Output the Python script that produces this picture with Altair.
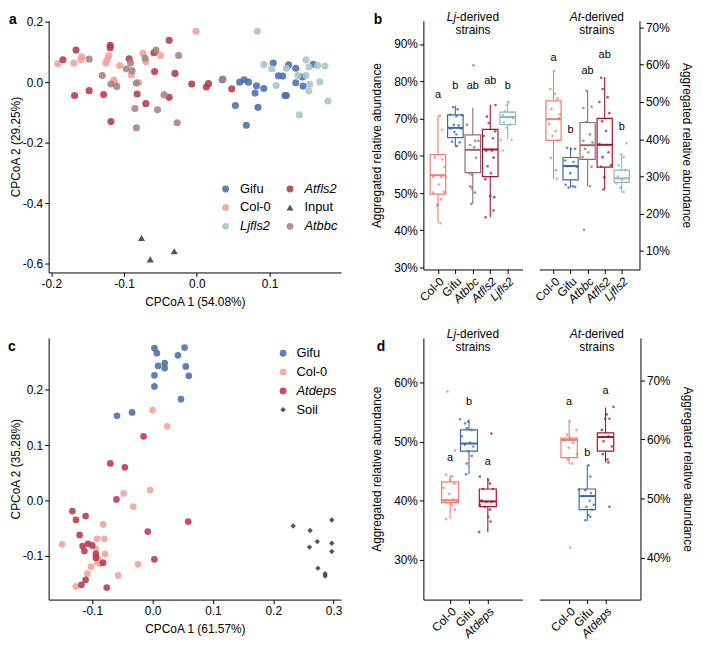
import altair as alt
import pandas as pd

FONT = "Liberation Sans"

# ---------------- Panel a : CPCoA (54.08% / 29.25%) ----------------
a_groups = ["Gifu", "Col-0", "Ljfls2", "Atfls2", "Input", "Atbbc"]
a_colors = ["#4a6fab", "#f4a09b", "#a9c4c6", "#b43a4c", "#3d3d3d", "#a38483"]
a_shapes = ["circle", "circle", "circle", "circle", "triangle-up", "circle"]

a_gifu_x = [0.035, 0.053, 0.059, 0.065, 0.071, 0.068, 0.082, 0.080, 0.092, 0.084, 0.105,
            0.112, 0.118, 0.126, 0.136, 0.121, 0.123, 0.136, 0.145, 0.146, 0.160]
a_gifu_y = [0.008, -0.077, 0.000, 0.008, 0.000, -0.142, -0.012, -0.036, -0.021, -0.083, 0.063,
            0.021, 0.020, 0.057, 0.046, -0.044, -0.044, -0.002, 0.017, -0.013, 0.059]
a_ljfls2_x = [0.083, 0.092, 0.103, 0.109, 0.123, 0.139, 0.150, 0.154, 0.150, 0.155, 0.154,
              0.166, 0.176, 0.169, 0.180, 0.141]
a_ljfls2_y = [0.168, 0.058, 0.044, -0.011, 0.046, 0.022, 0.074, 0.050, 0.022, -0.007, -0.029,
              0.055, 0.053, 0.001, -0.062, -0.108]
a_col0_x = [-0.001, -0.191, -0.169, -0.159, -0.158, -0.125, -0.123, -0.121, -0.114, -0.113,
            -0.106, -0.090, -0.080, -0.074, -0.070, -0.050]
a_col0_y = [0.168, 0.061, 0.063, 0.074, 0.084, 0.063, 0.074, 0.087, 0.007, -0.001,
            0.055, 0.024, -0.001, 0.095, 0.068, 0.088]
a_atfls2_x = [-0.184, -0.166, -0.168, -0.148, -0.128, -0.119, -0.119, -0.093, -0.082, -0.070,
              -0.118, -0.059, -0.058, -0.038, -0.038, -0.030, -0.007, 0.016, 0.013, 0.048]
a_atfls2_y = [0.074, 0.106, -0.044, -0.028, -0.041, 0.122, 0.114, 0.077, -0.039, -0.071,
              -0.130, 0.097, 0.035, -0.050, 0.138, 0.029, -0.006, -0.005, -0.016, -0.022]
a_atbbc_x = [-0.148, -0.130, -0.118, -0.110, -0.097, -0.091, -0.089, -0.083, -0.071, -0.085,
             -0.083, -0.056, -0.045, -0.054, -0.025, -0.027, 0.036]
a_atbbc_y = [0.076, 0.022, -0.006, -0.014, 0.044, 0.063, 0.038, -0.003, 0.079, -0.087,
             -0.151, 0.106, -0.042, -0.091, 0.088, -0.134, 0.010]
a_input_x = [-0.076, -0.064, -0.031]
a_input_y = [-0.514, -0.585, -0.558]

# ---------------- Panel c : CPCoA (61.57% / 35.28%) ----------------
c_groups = ["Gifu", "Col-0", "Atdeps", "Soil"]
c_colors = ["#4a6fab", "#f4a09b", "#b43a4c", "#3d3d3d"]
c_shapes = ["circle", "circle", "circle", "M0,-0.8L0.8,0L0,0.8L-0.8,0Z"]

c_gifu_x = [0.003, 0.007, 0.053, 0.042, 0.009, 0.020, 0.020, 0.055, 0.060, 0.003, 0.003,
            0.047, -0.059, -0.034]
c_gifu_y = [0.275, 0.266, 0.276, 0.262, 0.243, 0.248, 0.239, 0.242, 0.225, 0.226, 0.206,
            0.183, 0.153, 0.159]
c_col0_x = [0.000, 0.024, -0.048, -0.004, -0.032, -0.082, -0.150, -0.092, -0.080, -0.079,
            -0.094, -0.090, -0.087, -0.102, -0.108, -0.127, -0.024, -0.057, -0.092]
c_col0_y = [0.163, 0.134, 0.013, 0.019, -0.011, -0.043, -0.079, -0.069, -0.069, -0.096,
            -0.087, -0.105, -0.114, -0.119, -0.132, -0.155, -0.115, -0.135, -0.111]
c_atdeps_x = [-0.015, -0.070, -0.046, -0.060, -0.133, -0.127, -0.111, -0.121, 0.059, -0.008,
              -0.116, -0.113, -0.107, -0.100, -0.094, -0.082, 0.003, -0.111, -0.118, -0.076,
              -0.094]
c_atdeps_y = [0.116, 0.067, 0.060, 0.002, -0.019, -0.035, -0.028, -0.062, -0.038, -0.056,
              -0.082, -0.091, -0.078, -0.081, -0.096, -0.112, -0.106, -0.143, -0.152, -0.157,
              -0.103]
c_soil_x = [0.233, 0.261, 0.297, 0.273, 0.260, 0.297, 0.297, 0.274, 0.286, 0.286]
c_soil_y = [-0.046, -0.054, -0.035, -0.074, -0.084, -0.077, -0.092, -0.122, -0.132, -0.136]

# ---------------- Panel b : aggregated relative abundance ----------------
b_groups = ["Col-0", "Gifu", "Atbbc", "Atfls2", "Ljfls2"]
b_colors = ["#ef7e76", "#3f66a9", "#8f6d69", "#a5162d", "#92b6b9"]

b_lj_lower = [41.9, 62.4, 47.1, 43.5, 64.3]
b_lj_q1 = [49.7, 64.9, 55.5, 54.4, 68.4]
b_lj_median = [54.8, 67.5, 61.6, 61.7, 70.4]
b_lj_q3 = [60.3, 71.0, 65.6, 67.1, 71.7]
b_lj_upper = [70.8, 73.4, 72.9, 73.7, 74.6]
b_lj_letters = ["a", "b", "ab", "ab", "b"]
b_lj_letter_y = [76.4, 78.6, 78.8, 80.1, 78.6]
b_lj_values = [
    [70.7, 67.0, 59.5, 59.0, 57.0, 54.4, 54.3, 54.3, 52.3, 50.3, 50.1, 48.3, 47.0, 46.6, 41.9],
    [73.0, 72.5, 71.0, 70.9, 70.6, 68.3, 68.2, 67.3, 67.3, 66.4, 65.7, 63.8, 63.6, 62.6],
    [84.3, 68.3, 64.0, 64.0, 62.9, 62.3, 59.5, 55.3, 54.9, 51.8, 51.4, 50.1, 47.1],
    [73.6, 70.5, 68.8, 66.6, 65.3, 64.7, 61.4, 61.4, 59.5, 57.2, 55.3, 53.7, 49.2, 48.9, 45.3, 43.5],
    [74.4, 73.6, 72.0, 71.7, 71.0, 70.3, 70.1, 69.0, 68.3, 67.5, 64.2, 64.3, 61.4],
]
b_lj_jitter = [
    [0.11, 0.25, -0.19, 0.25, 0.38, -0.27, 0.19, 0.44, 0.06, 0.34, -0.27, 0.19, 0.0, -0.04, 0.15],
    [-0.13, 0.13, -0.28, 0.38, 0.06, -0.09, 0.19, -0.28, 0.32, -0.06, 0.06, -0.19, 0.25, 0.09],
    [0.04, -0.34, 0.13, 0.32, -0.15, 0.08, 0.19, -0.19, -0.06, -0.15, -0.06, 0.13, -0.09],
    [0.30, -0.19, -0.09, 0.28, -0.38, 0.15, -0.23, 0.09, 0.19, -0.15, 0.04, -0.28, 0.0, 0.23, 0.19, -0.27],
    [0.04, -0.06, -0.15, 0.23, -0.28, 0.04, 0.32, -0.21, 0.13, -0.06, -0.40, 0.23, -0.28],
]

b_at_lower = [29.4, 27.0, 27.3, 26.5, 25.7]
b_at_q1 = [39.7, 29.1, 34.6, 32.5, 28.4]
b_at_median = [45.4, 32.8, 38.4, 38.5, 29.5]
b_at_q3 = [50.3, 35.1, 44.5, 45.6, 31.7]
b_at_upper = [58.3, 37.7, 53.0, 56.7, 36.1]
b_at_letters = ["a", "b", "ab", "ab", "b"]
b_at_letter_y = [61.7, 42.6, 58.3, 62.7, 43.2]
b_at_values = [
    [58.3, 53.5, 52.2, 50.9, 48.1, 46.7, 45.7, 44.1, 42.2, 40.9, 39.7, 35.0, 31.7, 29.4],
    [37.7, 37.4, 37.4, 34.3, 33.9, 32.8, 32.6, 30.9, 27.8, 27.4, 27.0, 27.2],
    [53.0, 48.4, 48.7, 44.6, 41.3, 39.6, 39.1, 37.4, 36.5, 35.2, 32.6, 27.4, 15.7],
    [56.5, 53.5, 51.3, 50.0, 47.0, 44.8, 42.2, 38.7, 36.5, 35.2, 33.0, 32.6, 29.8, 26.5],
    [38.9, 35.9, 35.2, 33.0, 31.7, 30.0, 29.1, 28.1, 27.0, 25.8],
]
b_at_jitter = [
    [0.04, -0.19, 0.08, 0.23, -0.12, 0.38, 0.33, -0.25, 0.13, -0.06, 0.27, -0.15, 0.13, 0.19],
    [-0.21, 0.02, 0.27, -0.31, 0.17, -0.17, 0.37, -0.02, -0.29, 0.13, -0.12, 0.27],
    [-0.06, -0.25, 0.23, -0.10, 0.13, -0.25, 0.29, -0.15, 0.04, -0.29, 0.23, 0.13, -0.21],
    [-0.21, -0.12, 0.17, -0.31, 0.27, -0.15, 0.08, -0.31, 0.23, -0.12, 0.37, -0.21, -0.02, -0.08],
    [0.27, -0.04, 0.12, -0.17, 0.21, -0.23, 0.02, -0.31, -0.08, 0.12],
]

# ---------------- Panel d ----------------
d_groups = ["Col-0", "Gifu", "Atdeps"]
d_colors = ["#ef7e76", "#3f66a9", "#a5162d"]

d_lj_lower = [36.9, 44.5, 34.7]
d_lj_q1 = [39.7, 48.4, 39.0]
d_lj_median = [40.1, 49.7, 39.9]
d_lj_q3 = [43.2, 52.0, 42.0]
d_lj_upper = [44.4, 53.8, 43.9]
d_lj_letters = ["a", "b", "a"]
d_lj_letter_y = [47.3, 56.8, 46.6]
d_lj_values = [
    [58.5, 48.5, 44.4, 44.1, 43.5, 42.9, 42.2, 41.2, 40.2, 40.0, 39.8, 39.3, 38.5, 36.9],
    [53.8, 53.1, 53.4, 52.3, 52.0, 50.9, 49.8, 49.5, 49.2, 48.4, 47.6, 46.3, 44.5],
    [51.4, 44.1, 43.5, 42.9, 42.0, 42.0, 40.1, 39.8, 39.8, 39.3, 39.0, 38.5, 37.3, 36.5, 34.7],
]
d_lj_jitter = [
    [-0.14, 0.26, -0.21, 0.11, 0.0, 0.23, -0.35, -0.04, 0.18, -0.26, 0.35, 0.09, 0.26, -0.21],
    [-0.47, -0.21, -0.04, -0.12, 0.14, -0.39, 0.05, -0.21, 0.23, -0.04, 0.14, -0.12, -0.16],
    [0.19, -0.42, 0.02, 0.11, -0.25, 0.28, -0.33, -0.07, 0.19, -0.42, -0.16, 0.11, 0.02, 0.14, -0.46],
]

d_at_lower = [55.8, 46.2, 56.1]
d_at_q1 = [56.9, 48.1, 58.0]
d_at_median = [59.9, 50.4, 60.4]
d_at_q3 = [60.2, 51.6, 61.1]
d_at_upper = [63.1, 55.6, 65.4]
d_at_letters = ["a", "b", "a"]
d_at_letter_y = [66.3, 57.7, 68.2]
d_at_values = [
    [63.1, 61.6, 60.8, 60.2, 59.9, 59.4, 58.6, 57.5, 56.6, 55.9, 41.7],
    [55.6, 53.7, 51.5, 51.4, 50.9, 50.4, 49.6, 48.9, 48.6, 48.1, 47.2, 46.9, 46.3],
    [65.5, 64.2, 63.5, 63.5, 61.6, 60.5, 59.7, 58.8, 57.5, 56.6, 56.1, 48.6],
]
d_at_jitter = [
    [0.04, 0.40, -0.11, 0.07, -0.20, 0.22, -0.02, 0.44, -0.07, 0.16, 0.07],
    [0.07, 0.16, -0.47, -0.11, 0.20, -0.20, 0.13, 0.35, -0.05, 0.25, 0.07, 0.16, -0.11],
    [0.44, 0.07, -0.02, 0.22, -0.20, 0.16, -0.11, 0.35, -0.15, 0.11, 0.16, 0.22],
]

NUM_EXPR = "replace(format(datum.value, '.1f'), '\u2212', '-')"


def text_layer(txt, x, y, size=12, weight="normal", style="normal", align="left", baseline="middle"):
    return alt.Chart(pd.DataFrame({"t": [txt]})).mark_text(
        font=FONT, fontSize=size, fontWeight=weight, fontStyle=style, align=align,
        baseline=baseline, color="black"
    ).encode(x=alt.value(x), y=alt.value(y), text="t:N")


def strip_title(prefix, center, y1, y2):
    split = center - (17 if prefix == "Lj" else 16)
    return [
        text_layer(prefix, split, y1, style="italic", align="right"),
        text_layer("-derived", split, y1, align="left"),
        text_layer("strains", center, y2, align="center"),
    ]


def scatter_panel(frames, groups, colors, shapes, size, xdom, ydom, w, h, xticks, yticks,
                  xtitle, ytitle, xtitle_pad, legend, extra):
    rows = []
    for g, xs, ys in frames:
        for xv, yv in zip(xs, ys):
            rows.append({"x": xv, "y": yv, "group": g})
    df = pd.DataFrame(rows)
    pts = alt.Chart(df).mark_point(filled=True, opacity=0.88, strokeWidth=0, size=size).encode(
        x=alt.X("x:Q", scale=alt.Scale(domain=xdom, nice=False, zero=False),
                axis=alt.Axis(values=xticks, labelExpr=NUM_EXPR, title=xtitle,
                              titlePadding=xtitle_pad)),
        y=alt.Y("y:Q", scale=alt.Scale(domain=ydom, nice=False, zero=False),
                axis=alt.Axis(values=yticks, labelExpr=NUM_EXPR, title=ytitle, titlePadding=0)),
        color=alt.Color("group:N", scale=alt.Scale(domain=groups, range=colors), legend=legend),
        shape=alt.Shape("group:N", scale=alt.Scale(domain=groups, range=shapes), legend=legend),
    )
    return alt.layer(pts, *extra).properties(width=w, height=h)


def box_panel(groups, colors, lower, q1, med, q3, upper, letters, letter_y, values, jitter,
              xdom, ydom, w, h, yticks, orient, half, italic_test, extra):
    n = len(groups)
    box_df = pd.DataFrame({
        "idx": list(range(1, n + 1)), "lower": lower, "q1": q1, "median": med, "q3": q3,
        "upper": upper, "color": colors, "letter": letters, "ly": letter_y,
    })
    prow = []
    for i, (vs, js) in enumerate(zip(values, jitter)):
        for v, j in zip(vs, js):
            prow.append({"idx": i + 1, "jit": j, "v": v, "color": colors[i]})
    pts_df = pd.DataFrame(prow)

    xs = alt.Scale(domain=xdom, nice=False, zero=False)
    ys = alt.Scale(domain=ydom, nice=False, zero=False)
    label_list = "[''," + ",".join("'%s'" % g for g in groups) + "]"
    xax = alt.Axis(values=list(range(1, n + 1)), labelExpr=label_list + "[datum.value]",
                   labelAngle=-45, title=None, labelOverlap=False,
                   labelFontStyle=alt.ExprRef(italic_test))
    yax = alt.Axis(values=yticks, labelExpr="datum.value + '%'", orient=orient,
                   title="Aggregated relative abundance", titlePadding=10, labelOverlap=False)
    col = alt.Color("color:N", scale=None)
    base = alt.Chart(box_df)
    wide = base.transform_calculate(xlo="datum.idx - %s" % half, xhi="datum.idx + %s" % half)

    w_up = base.mark_rule(strokeWidth=1.1).encode(
        x=alt.X("idx:Q", scale=xs, axis=xax), y=alt.Y("q3:Q", scale=ys, axis=yax),
        y2="upper:Q", color=col)
    w_lo = base.mark_rule(strokeWidth=1.1).encode(
        x=alt.X("idx:Q", scale=xs, axis=xax), y=alt.Y("lower:Q", scale=ys, axis=yax),
        y2="q1:Q", color=col)
    box = wide.mark_rect(fillOpacity=0, strokeWidth=1.2).encode(
        x=alt.X("xlo:Q", scale=xs, axis=xax), x2="xhi:Q",
        y=alt.Y("q1:Q", scale=ys, axis=yax), y2="q3:Q",
        stroke=alt.Stroke("color:N", scale=None))
    mline = wide.mark_rule(strokeWidth=2).encode(
        x=alt.X("xlo:Q", scale=xs, axis=xax), x2="xhi:Q",
        y=alt.Y("median:Q", scale=ys, axis=yax), color=col)
    pts = alt.Chart(pts_df).transform_calculate(xp="datum.idx + datum.jit").mark_circle(
        size=7, opacity=0.75).encode(
        x=alt.X("xp:Q", scale=xs, axis=xax), y=alt.Y("v:Q", scale=ys, axis=yax), color=col)
    lets = base.mark_text(font=FONT, fontSize=11, color="black", baseline="middle").encode(
        x=alt.X("idx:Q", scale=xs, axis=xax), y=alt.Y("ly:Q", scale=ys, axis=yax),
        text="letter:N")
    return alt.layer(w_up, w_lo, box, mline, pts, lets, *extra).properties(width=w, height=h)


def spacer(w):
    return alt.Chart(pd.DataFrame({"t": [""]})).mark_text().encode(
        text="t:N").properties(width=w, height=10)


# ----- legends -----
leg_a = alt.Legend(
    title=None, orient="none", legendX=172, legendY=163, columns=2, columnPadding=12,
    rowPadding=5, padding=0, labelFontSize=13, labelFont=FONT, labelColor="black",
    symbolSize=48, symbolStrokeWidth=0, labelOffset=8,
    labelFontStyle=alt.ExprRef(
        "indexof(['Ljfls2','Atfls2','Atbbc'], datum.label) >= 0 ? 'italic' : 'normal'"),
)
leg_c = alt.Legend(
    title=None, orient="none", legendX=230, legendY=9, columns=1, rowPadding=5, padding=0,
    labelFontSize=13, labelFont=FONT, labelColor="black", symbolSize=48,
    symbolStrokeWidth=0, labelOffset=7,
    labelFontStyle=alt.ExprRef("datum.label == 'Atdeps' ? 'italic' : 'normal'"),
)

panel_a = scatter_panel(
    [("Gifu", a_gifu_x, a_gifu_y), ("Ljfls2", a_ljfls2_x, a_ljfls2_y),
     ("Col-0", a_col0_x, a_col0_y), ("Atfls2", a_atfls2_x, a_atfls2_y),
     ("Atbbc", a_atbbc_x, a_atbbc_y), ("Input", a_input_x, a_input_y)],
    a_groups, a_colors, a_shapes, 52, [-0.2036, 0.1982], [-0.628, 0.203], 295, 254,
    [-0.2, -0.1, 0.0, 0.1], [0.2, 0.0, -0.2, -0.4, -0.6],
    "CPCoA 1 (54.08%)", "CPCoA 2 (29.25%)", 7, leg_a,
    [text_layer("a", -40, -8, size=14, weight="bold", baseline="top")],
)

panel_c = scatter_panel(
    [("Gifu", c_gifu_x, c_gifu_y), ("Col-0", c_col0_x, c_col0_y),
     ("Atdeps", c_atdeps_x, c_atdeps_y), ("Soil", c_soil_x, c_soil_y)],
    c_groups, c_colors, c_shapes, 46, [-0.1723, 0.3124], [-0.1787, 0.2935], 295, 264,
    [-0.1, 0.0, 0.1, 0.2, 0.3], [-0.1, 0.0, 0.1, 0.2],
    "CPCoA 1 (61.57%)", "CPCoA 2 (35.28%)", 7, leg_c,
    [text_layer("c", -41, 2, size=14, weight="bold", baseline="top")],
)

panel_b_lj = box_panel(
    b_groups, b_colors, b_lj_lower, b_lj_q1, b_lj_median, b_lj_q3, b_lj_upper,
    b_lj_letters, b_lj_letter_y, b_lj_values, b_lj_jitter,
    [0.165, 5.85], [29.48, 96.27], 100, 251, [30, 40, 50, 60, 70, 80, 90], "left", 0.445,
    "datum.value >= 3 ? 'italic' : 'normal'",
    [text_layer("b", -50, -8, size=14, weight="bold", baseline="top")]
    + strip_title("Lj", 50, -4, 9),
)
panel_b_at = box_panel(
    b_groups, b_colors, b_at_lower, b_at_q1, b_at_median, b_at_q3, b_at_upper,
    b_at_letters, b_at_letter_y, b_at_values, b_at_jitter,
    [0.17, 6.04], [5.04, 71.83], 101, 251, [10, 20, 30, 40, 50, 60, 70], "right", 0.445,
    "datum.value >= 3 ? 'italic' : 'normal'",
    strip_title("At", 58, -4, 9),
)
panel_d_lj = box_panel(
    d_groups, d_colors, d_lj_lower, d_lj_q1, d_lj_median, d_lj_q3, d_lj_upper,
    d_lj_letters, d_lj_letter_y, d_lj_values, d_lj_jitter,
    [-0.42, 4.84], [23.27, 67.58], 100, 264, [30, 40, 50, 60], "left", 0.45,
    "datum.value == 3 ? 'italic' : 'normal'",
    [text_layer("d", -47, 2, size=14, weight="bold", baseline="top")]
    + strip_title("Lj", 50, -4, 9),
)
panel_d_at = box_panel(
    d_groups, d_colors, d_at_lower, d_at_q1, d_at_median, d_at_q3, d_at_upper,
    d_at_letters, d_at_letter_y, d_at_values, d_at_jitter,
    [-0.635, 4.92], [32.87, 77.18], 102, 264, [40, 50, 60, 70], "right", 0.45,
    "datum.value == 3 ? 'italic' : 'normal'",
    strip_title("At", 58, -4, 9),
)

chart = (
    alt.concat(
        panel_a, spacer(49), panel_b_lj, panel_b_at,
        panel_c, spacer(46), panel_d_lj, panel_d_at,
        columns=4, align={"row": "each", "column": "none"}, bounds="flush",
        spacing={"row": 66, "column": 17},
    )
    .resolve_scale(color="independent", shape="independent", stroke="independent")
    .properties(padding=0)
    .configure(font=FONT)
    .configure_view(stroke=None)
    .configure_axis(
        grid=False, domainColor="black", domainWidth=1, tickColor="black", tickWidth=1,
        tickSize=4, labelColor="black", labelFontSize=12, labelFont=FONT, labelPadding=2,
        titleColor="black", titleFontSize=12, titleFont=FONT, titleFontWeight="normal",
    )
)

chart.save("out.html", embed_options={"renderer": "svg", "actions": False})
